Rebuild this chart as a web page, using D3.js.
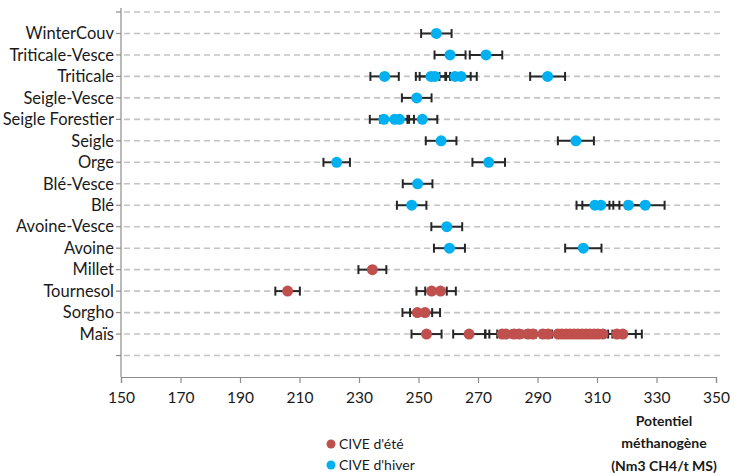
<!DOCTYPE html>
<html><head><meta charset="utf-8">
<script src="https://cdn.jsdelivr.net/npm/d3@7/dist/d3.min.js"></script>
<style>body{margin:0;background:#fff}svg{display:block}</style>
</head><body>
<script>
// Categories, top to bottom
const categories = ["WinterCouv","Triticale-Vesce","Triticale","Seigle-Vesce","Seigle Forestier","Seigle","Orge","Blé-Vesce","Blé","Avoine-Vesce","Avoine","Millet","Tournesol","Sorgho","Maïs"];
// CIVE d'hiver (winter) values per category
const hiverCats = ["WinterCouv","Triticale-Vesce","Triticale-Vesce","Triticale","Triticale","Triticale","Triticale","Triticale","Triticale","Seigle-Vesce","Seigle Forestier","Seigle Forestier","Seigle Forestier","Seigle Forestier","Seigle","Seigle","Orge","Orge","Blé-Vesce","Blé","Blé","Blé","Blé","Blé","Avoine-Vesce","Avoine","Avoine"];
const hiverVals = [256,260.6,272.7,238.6,254.2,255.5,262.3,264.3,293.4,249.4,238.4,242,243.6,251.3,257.6,302.9,222.5,273.6,249.7,247.7,309.3,311.3,320.6,326.2,259.5,260.4,305.4];
// CIVE d'été (summer) values per category
const eteCats = ["Millet","Tournesol","Tournesol","Tournesol","Sorgho","Sorgho","Maïs","Maïs","Maïs","Maïs","Maïs","Maïs","Maïs","Maïs","Maïs","Maïs","Maïs","Maïs","Maïs","Maïs","Maïs","Maïs","Maïs","Maïs","Maïs","Maïs","Maïs","Maïs","Maïs","Maïs"];
const eteVals = [234.5,206,254.4,257.4,249.6,252.2,252.7,267,278.1,279.4,282.1,283.8,286.8,288.5,291.8,293.5,296.9,298.2,299.6,300.9,302.3,303.6,305,306.3,307.6,309,310.3,312,316.7,318.7];
const errorPct = 0.02; // percentage error bars
const xTicks = [150,170,190,210,230,250,270,290,310,330,350];
const legendLabels = ["CIVE d'été","CIVE d'hiver"];
const axisTitle = ["Potentiel","méthanogène","(Nm3 CH4/t MS)"];

const W = 734, H = 475;
const colEte = "#C0504D", colHiver = "#00B0F0";
const svg = d3.select("body").append("svg").attr("width", W).attr("height", H);
const x = d3.scaleLinear().domain([150,350]).range([121,716]);
const y = d3.scaleLinear().domain([0,17]).range([377,12]);
const rowOf = c => 16 - categories.indexOf(c);
const font = "Lato, 'Open Sans', sans-serif";

// gridlines
const grid = d3.range(1,18);
svg.append("g").selectAll("line").data(grid).join("line")
  .attr("x1", 124).attr("x2", 722)
  .attr("y1", d => y(d)).attr("y2", d => y(d))
  .attr("stroke", "#C4C4C4").attr("stroke-width", 1.6).attr("stroke-dasharray", "6,4");

// y axis
const ya = svg.append("g");
ya.append("line").attr("x1", x(150)).attr("x2", x(150)).attr("y1", 8).attr("y2", y(0)).attr("stroke", "#8C8C8C").attr("stroke-width", 1.2);
ya.selectAll("line.t").data(grid).join("line").attr("class","t")
  .attr("x1", x(150)-5).attr("x2", x(150)).attr("y1", d => y(d)).attr("y2", d => y(d))
  .attr("stroke", "#8C8C8C").attr("stroke-width", 1.2);
ya.selectAll("text").data(categories).join("text")
  .attr("x", 114).attr("y", c => y(rowOf(c))).attr("dy", "0.35em")
  .attr("text-anchor", "end").attr("font-family", font).attr("font-size", 16.5)
  .attr("fill", "#1a1a1a").text(c => c);

// x axis
const xAxis = d3.axisBottom(x).tickValues(xTicks).tickSize(6).tickPadding(9).tickFormat(d3.format("d"));
const xa = svg.append("g").attr("transform", `translate(0,${y(0)})`).call(xAxis);
xa.select(".domain").attr("stroke", "#8C8C8C").attr("stroke-width", 1.2);
xa.selectAll(".tick line").attr("stroke", "#8C8C8C").attr("stroke-width", 1.2);
xa.selectAll(".tick text").attr("font-family", font).attr("font-size", 15.5).attr("fill", "#1a1a1a");

// points + error bars
function drawSeries(cats, vals, color) {
  const data = cats.map((c, i) => ({c, v: vals[i]}));
  const g = svg.append("g");
  const eb = g.append("g").attr("stroke", "#262626").attr("stroke-width", 2);
  data.forEach(d => {
    const yy = y(rowOf(d.c)), lo = x(d.v*(1-errorPct)), hi = x(d.v*(1+errorPct));
    eb.append("line").attr("x1", lo).attr("x2", hi).attr("y1", yy).attr("y2", yy);
    eb.append("line").attr("x1", lo).attr("x2", lo).attr("y1", yy-4.5).attr("y2", yy+4.5);
    eb.append("line").attr("x1", hi).attr("x2", hi).attr("y1", yy-4.5).attr("y2", yy+4.5);
  });
  g.append("g").selectAll("circle").data(data).join("circle")
    .attr("cx", d => x(d.v)).attr("cy", d => y(rowOf(d.c))).attr("r", 5.5).attr("fill", color);
}
drawSeries(hiverCats, hiverVals, colHiver);
drawSeries(eteCats, eteVals, colEte);

// legend
const lg = svg.append("g").attr("font-family", font).attr("font-size", 14).attr("fill", "#1a1a1a");
[colEte, colHiver].forEach((col, i) => {
  lg.append("circle").attr("cx", 331).attr("cy", 444 + i*21).attr("r", 4.5).attr("fill", col);
  lg.append("text").attr("x", 339).attr("y", 444 + i*21).attr("dy", "0.35em").text(legendLabels[i]);
});

// axis title
svg.append("g").selectAll("text").data(axisTitle).join("text")
  .attr("x", 664).attr("y", (d, i) => 421 + i*22.5).attr("dy", "0.35em")
  .attr("text-anchor", "middle").attr("font-family", font).attr("font-weight", "bold")
  .attr("font-size", 14).attr("fill", "#1a1a1a").text(d => d);
</script>
</body></html>
